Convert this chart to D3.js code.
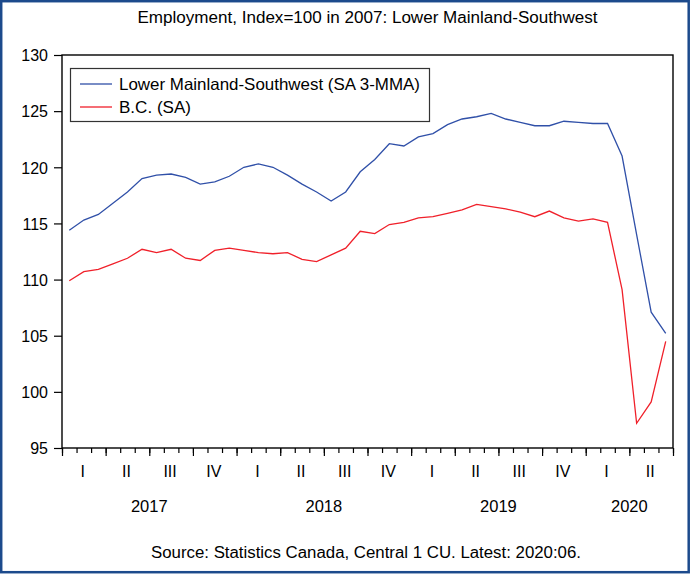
<!DOCTYPE html>
<html>
<head>
<meta charset="utf-8">
<script src="https://cdn.jsdelivr.net/npm/d3@7"></script>
<style>
  html, body { margin: 0; padding: 0; background: #fff; }
  svg { display: block; }
  text { font-family: "Liberation Sans", Arial, sans-serif; fill: #000; }
</style>
</head>
<body>
<svg id="chart" width="691" height="579"></svg>
<script>
// ---- Data (monthly, Jan 2017 – Jun 2020) ----
const seriesNames = ["Lower Mainland-Southwest (SA 3-MMA)", "B.C. (SA)"];
const lowerMainland = [
  114.4, 115.3, 115.8, 116.8, 117.8, 119.0, 119.3, 119.4, 119.1, 118.5, 118.7, 119.2,
  120.0, 120.3, 120.0, 119.3, 118.5, 117.8, 117.0, 117.8, 119.6, 120.7, 122.1, 121.9,
  122.7, 123.0, 123.8, 124.3, 124.5, 124.8, 124.3, 124.0, 123.7, 123.7, 124.1, 124.0,
  123.9, 123.9, 121.0, 114.0, 107.1, 105.2
];
const bc = [
  109.9, 110.7, 110.9, 111.4, 111.9, 112.7, 112.4, 112.7, 111.9, 111.7, 112.6, 112.8,
  112.6, 112.4, 112.3, 112.4, 111.8, 111.6, 112.2, 112.8, 114.3, 114.1, 114.9, 115.1,
  115.5, 115.6, 115.9, 116.2, 116.7, 116.5, 116.3, 116.0, 115.6, 116.1, 115.5, 115.2,
  115.4, 115.1, 109.1, 97.2, 99.1, 104.5
];
const quarterLabels = ["I","II","III","IV","I","II","III","IV","I","II","III","IV","I","II"];
const years = ["2017", "2018", "2019", "2020"];
const yearMonths = [12, 12, 12, 6];
const yTicks = [95, 100, 105, 110, 115, 120, 125, 130];
const titleText = "Employment, Index=100 in 2007: Lower Mainland-Southwest";
const sourceText = "Source: Statistics Canada, Central 1 CU. Latest: 2020:06.";
const colors = ["#3050a8", "#f0202a"];

// ---- Layout ----
const svg = d3.select("#chart");
const L = 62, R = 673, T = 55, B = 448;
const nMonths = lowerMainland.length;

const x = d3.scaleLinear().domain([0, nMonths]).range([L, R]);
const y = d3.scaleLinear().domain([95, 130]).range([B, T]);

// outer frame
svg.append("rect")
  .attr("x", 1.2).attr("y", 1.2).attr("width", 687.5).attr("height", 571)
  .attr("fill", "none").attr("stroke", "#1c4a8c").attr("stroke-width", 2.5);

// title
svg.append("text")
  .attr("x", (L + R) / 2).attr("y", 23)
  .attr("text-anchor", "middle")
  .attr("font-size", 16)
  .attr("textLength", 460).attr("lengthAdjust", "spacingAndGlyphs")
  .text(titleText);

// Y axis
const yAxis = d3.axisLeft(y).tickValues(yTicks).tickSize(8).tickPadding(6).tickFormat(d3.format("d"));
const gy = svg.append("g").attr("transform", `translate(${L},0)`).call(yAxis);
gy.select(".domain").remove();
gy.selectAll("line").attr("stroke", "#000").attr("stroke-width", 1.2);
gy.selectAll("text").attr("font-size", 16).attr("font-family", "Liberation Sans, Arial, sans-serif").attr("dy", "0.36em");

// X axis: minor (monthly) and major (quarterly) ticks
const minorAxis = d3.axisBottom(x).tickValues(d3.range(0, nMonths + 1)).tickSize(5).tickFormat("");
const gxm = svg.append("g").attr("transform", `translate(0,${B})`).call(minorAxis);
gxm.select(".domain").remove();
gxm.selectAll("line").attr("stroke", "#000").attr("stroke-width", 1.2);

const majorAxis = d3.axisBottom(x).tickValues(d3.range(0, nMonths + 1, 3)).tickSize(8).tickFormat("");
const gxM = svg.append("g").attr("transform", `translate(0,${B})`).call(majorAxis);
gxM.select(".domain").remove();
gxM.selectAll("line").attr("stroke", "#000").attr("stroke-width", 1.2);

// quarter labels
svg.append("g").selectAll("text").data(quarterLabels).join("text")
  .attr("x", (d, i) => x(i * 3 + 1.5) - 1)
  .attr("y", 477)
  .attr("text-anchor", "middle")
  .attr("font-size", 16)
  .text(d => d);

// year labels
let cum = 0;
const yearPos = yearMonths.map(m => { const c = cum + m / 2; cum += m; return c; });
svg.append("g").selectAll("text").data(years).join("text")
  .attr("x", (d, i) => x(yearPos[i]))
  .attr("y", 512)
  .attr("text-anchor", "middle")
  .attr("font-size", 16.5)
  .text(d => d);

// plot frame
svg.append("rect")
  .attr("x", L).attr("y", T).attr("width", R - L).attr("height", B - T)
  .attr("fill", "none").attr("stroke", "#000").attr("stroke-width", 1.4);

// lines
const line = d3.line().x((d, i) => x(i + 0.5)).y(d => y(d));
[lowerMainland, bc].forEach((s, k) => {
  svg.append("path").datum(s)
    .attr("d", line)
    .attr("fill", "none")
    .attr("stroke", colors[k])
    .attr("stroke-width", 1.3)
    .attr("stroke-linejoin", "miter");
});

// legend
const legendWidths = [301, 72];
const lg = svg.append("g");
lg.append("rect")
  .attr("x", 70.5).attr("y", 68.5).attr("width", 359).attr("height", 53)
  .attr("fill", "#fff").attr("stroke", "#333").attr("stroke-width", 1.2);
seriesNames.forEach((name, k) => {
  const ly = 84 + k * 23;
  lg.append("line").attr("x1", 80).attr("x2", 112).attr("y1", ly).attr("y2", ly)
    .attr("stroke", colors[k]).attr("stroke-width", 1.3);
  lg.append("text").attr("x", 119).attr("y", ly + 6).attr("font-size", 16.5)
    .attr("textLength", legendWidths[k]).attr("lengthAdjust", "spacingAndGlyphs")
    .text(name);
});

// source
svg.append("text")
  .attr("x", 366).attr("y", 558)
  .attr("text-anchor", "middle")
  .attr("font-size", 16)
  .attr("textLength", 430).attr("lengthAdjust", "spacingAndGlyphs")
  .text(sourceText);
</script>
</body>
</html>
